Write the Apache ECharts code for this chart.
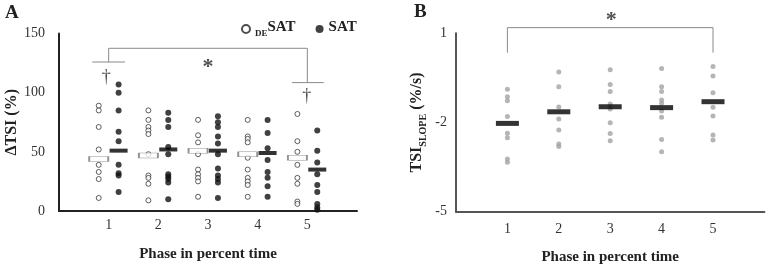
<!DOCTYPE html>
<html>
<head>
<meta charset="utf-8">
<script src="https://cdn.jsdelivr.net/npm/echarts@6/dist/echarts.min.js"></script>
<style>html,body{margin:0;padding:0;background:#fff}#chart{width:768px;height:265px}</style>
</head>
<body>
<div id="chart"></div>
<script>
var phases = [1, 2, 3, 4, 5];
var phaseTicks = [1, 2, 3, 4, 5];
var dtsiTicks = [0, 50, 100, 150];
var slopeTicks = [-5, -2, 1];

// ΔTSI (%) per phase: open circles = DESAT, filled = SAT
var desat = [
    [89, 85, 71, 52, 39, 33, 27, 11],
    [85, 77, 71, 68, 65, 48, 30, 28, 23, 9],
    [77, 64, 58, 48, 35, 31, 28, 25, 12],
    [77, 63, 61, 58, 45, 35, 28, 25, 22, 12],
    [82, 59, 50, 39, 28, 23, 8, 6]
];
var desatMean = [44, 47, 51, 48, 45];
var sat = [
    [107, 100, 85, 67, 59, 39, 32, 30, 16],
    [83, 77, 71, 54, 48, 31, 29, 27, 24, 10],
    [80, 75, 71, 63, 57, 48, 36, 30, 27, 24, 11],
    [77, 66, 53, 43, 33, 28, 21, 12],
    [68, 51, 41, 31, 22, 16, 6, 3, 1]
];
var satMean = [51, 52, 51, 49, 35];

// TSI slope (%/s)
var slope = [
    [-0.88, -1.13, -1.27, -1.8, -2.36, -2.51, -3.23, -3.34],
    [-0.3, -0.8, -1.48, -1.88, -2.25, -2.72, -2.81],
    [-0.23, -0.72, -0.96, -1.38, -1.55, -2.01, -2.37, -2.61],
    [-0.18, -0.8, -0.96, -1.24, -1.35, -1.61, -1.82, -2.57, -2.98],
    [-0.12, -0.44, -1.0, -1.49, -1.78, -2.42, -2.59]
];
var slopeMean = [-2.03, -1.64, -1.47, -1.5, -1.3];

// significance marks (in axis units)
var bracketA = [[1, 125.9], [1, 137.5], [5, 137.5], [5, 108.5]];
var crossA1 = [[0.67, 125.9], [1.33, 125.9]];
var crossA5 = [[4.69, 108.5], [5.33, 108.5]];
var daggersA = [[0.95, 112.8], [4.99, 97.2]];
var starA = [[3, 121.5]];
var bracketB = [[1, 0.35], [1, 1.19], [5, 1.19], [5, 0.35]];
var starB = [[3.02, 1.45]];

var SERIF = 'Liberation Serif';
var SHIFT = 0.2;

function spread(groups, shift) {
    var out = [];
    groups.forEach(function (g, i) {
        g.forEach(function (v) { out.push([phases[i] + shift, v]); });
    });
    return out;
}
function atPhase(arr, shift) {
    return arr.map(function (v, i) { return [phases[i] + shift, v]; });
}
function guide(data, gi) {
    return {
        type: 'line', xAxisIndex: gi, yAxisIndex: gi, data: data,
        symbol: 'none', silent: true, clip: false,
        lineStyle: {color: '#8a8a8a', width: 1}
    };
}
function mark(data, gi, txt, size, bold) {
    return {
        type: 'scatter', xAxisIndex: gi, yAxisIndex: gi, data: data,
        symbolSize: 1, itemStyle: {color: 'rgba(0,0,0,0)'}, clip: false, silent: true,
        label: {show: true, position: 'inside', formatter: txt, fontFamily: SERIF,
                fontSize: size, fontWeight: bold ? 'bold' : 'normal', color: '#222'}
    };
}

function xAxisOf(gi, margin, gap) {
    return {
        type: 'value', gridIndex: gi, min: 0, max: 6,
        axisLine: {show: true, onZero: false, lineStyle: {color: gi ? '#555' : '#222', width: 2}},
        axisTick: {show: false}, minorTick: {show: false}, splitLine: {show: false},
        axisLabel: {customValues: phaseTicks, margin: margin, fontFamily: SERIF, fontSize: 14, color: '#333'},
        name: 'Phase in percent time', nameLocation: 'middle', nameGap: gap,
        nameTextStyle: {fontFamily: SERIF, fontSize: 15, fontWeight: 'bold', color: '#222'}
    };
}

var myChart = echarts.init(document.getElementById('chart'));
var option = {
    animation: false,
    grid: [
        {left: 59, top: 33.5, width: 298, height: 177.5, outerBoundsMode: 'none', containLabel: false},
        {left: 456, top: 33.3, width: 308.4, height: 178.4, outerBoundsMode: 'none', containLabel: false}
    ],
    legend: {
        data: ['DESAT', 'SAT'],
        left: 236, top: 15, itemWidth: 8, itemHeight: 8, itemGap: 20,
        icon: 'circle',
        formatter: function (name) {
            return name === 'DESAT' ? '{sub|DE}{main|SAT}' : '{main|SAT}';
        },
        textStyle: {
            rich: {
                sub: {fontFamily: SERIF, fontSize: 9, fontWeight: 'bold', color: '#222', verticalAlign: 'bottom'},
                main: {fontFamily: SERIF, fontSize: 15, fontWeight: 'bold', color: '#222', verticalAlign: 'bottom', padding: [0, 0, 3, 0]}
            }
        }
    },
    graphic: [
        {type: 'text', left: 5, top: 4, style: {text: 'A', font: 'bold 19px ' + SERIF, fill: '#222'}},
        {type: 'text', left: 414, top: 3, style: {text: 'B', font: 'bold 19px ' + SERIF, fill: '#222'}}
    ],
    xAxis: [xAxisOf(0, 7, 36), xAxisOf(1, 11, 38)],
    yAxis: [
        {
            type: 'value', gridIndex: 0, min: 0, max: 150, interval: 50,
            axisLine: {show: true, onZero: false, lineStyle: {color: '#222', width: 2}},
            axisTick: {show: false}, splitLine: {show: false},
            axisLabel: {customValues: dtsiTicks, margin: 14, fontFamily: SERIF, fontSize: 14, color: '#333'},
            name: 'ΔTSI (%)', nameLocation: 'middle', nameGap: 38,
            nameTextStyle: {fontFamily: SERIF, fontSize: 16, fontWeight: 'bold', color: '#222'}
        },
        {
            type: 'value', gridIndex: 1, min: -5, max: 1,
            axisLine: {show: true, onZero: false, lineStyle: {color: '#555', width: 2}},
            axisTick: {show: false}, splitLine: {show: false},
            axisLabel: {customValues: slopeTicks, margin: 9, fontFamily: SERIF, fontSize: 14, color: '#333'},
            name: '{m|TSI}{s|SLOPE}{m| (%/s)}', nameLocation: 'middle', nameGap: 28,
            nameTextStyle: {
                rich: {
                    m: {fontFamily: SERIF, fontSize: 16, fontWeight: 'bold', color: '#222', verticalAlign: 'bottom', padding: [0, 0, 3, 0]},
                    s: {fontFamily: SERIF, fontSize: 10, fontWeight: 'bold', color: '#222', verticalAlign: 'bottom'}
                }
            }
        }
    ],
    series: [
        {
            name: 'DESAT', type: 'scatter', xAxisIndex: 0, yAxisIndex: 0,
            data: spread(desat, -SHIFT), symbol: 'circle', symbolSize: 5,
            itemStyle: {color: '#fff', borderColor: '#222', borderWidth: 0.9}
        },
        {
            name: 'SAT', type: 'scatter', xAxisIndex: 0, yAxisIndex: 0,
            data: spread(sat, SHIFT), symbol: 'circle', symbolSize: 6,
            itemStyle: {color: '#111'}
        },
        {
            type: 'scatter', xAxisIndex: 0, yAxisIndex: 0, z: 3,
            data: atPhase(desatMean, -SHIFT), symbol: 'rect', symbolSize: [19, 5],
            itemStyle: {color: '#fff', borderColor: '#777', borderWidth: 1}
        },
        {
            type: 'scatter', xAxisIndex: 0, yAxisIndex: 0, z: 3,
            data: atPhase(satMean, SHIFT), symbol: 'rect', symbolSize: [18, 4],
            itemStyle: {color: '#000'}
        },
        guide(bracketA, 0),
        guide(crossA1, 0),
        guide(crossA5, 0),
        mark(daggersA, 0, '†', 18, false),
        mark(starA, 0, '*', 22, true),
        {
            type: 'scatter', xAxisIndex: 1, yAxisIndex: 1,
            data: spread(slope, 0), symbol: 'circle', symbolSize: 5,
            itemStyle: {color: '#a3a3a3'}
        },
        {
            type: 'scatter', xAxisIndex: 1, yAxisIndex: 1, z: 3,
            data: atPhase(slopeMean, 0), symbol: 'rect', symbolSize: [23, 5],
            itemStyle: {color: '#000'}
        },
        guide(bracketB, 1),
        mark(starB, 1, '*', 22, true)
    ]
};
myChart.setOption(option);
</script>
</body>
</html>
